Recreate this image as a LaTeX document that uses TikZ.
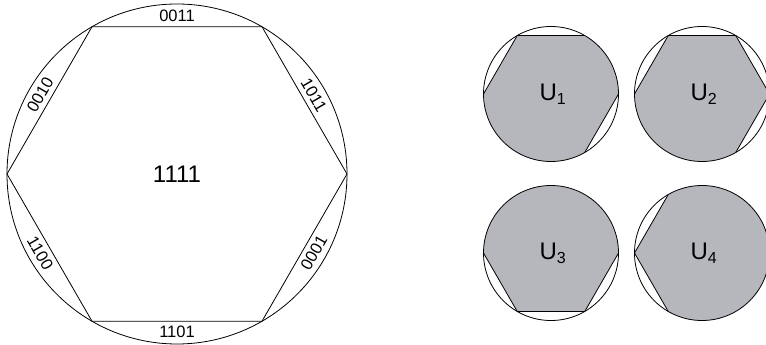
\documentclass[tikz,border=0pt]{standalone}
\usepackage{fontspec}
\setmainfont{Liberation Sans}
\usetikzlibrary{calc}
\definecolor{ugray}{RGB}{182,183,188}
\newcommand{\smallset}[4]{%
  \begin{scope}[shift={(#1)}]
    \fill[ugray] (0,0) circle (67.5);
    \foreach \a in {#3}{
      \fill[white] (\a:67.5) arc[start angle=\a, end angle=\a+60, radius=67.5] -- cycle;
      \draw (\a:67.5) -- (\a+60:67.5);
    }
    \draw (0,0) circle (67.5);
    \node[utext] (#4) at (2,0) {U\textsubscript{\fontsize{16}{16}\selectfont #2}};
  \end{scope}}
\begin{document}
\begin{tikzpicture}[x=1pt,y=1pt,line width=0.8pt,
  edgelab/.style={inner sep=0pt,font=\fontsize{16.5}{16.5}\selectfont},
  bigtext/.style={inner sep=0pt,font=\fontsize{24}{24}\selectfont},
  utext/.style={inner sep=0pt,font=\fontsize{24}{24}\selectfont}]
\useasboundingbox (0,0) rectangle (766,345);
\clip (0,0) rectangle (766,345);
% ---- big circle with hexagon
\coordinate (C) at (177,171);
\draw (C) circle (170);
\draw ($(C)+(0:170)$) -- ($(C)+(60:170)$) -- ($(C)+(120:170)$) -- ($(C)+(180:170)$) -- ($(C)+(240:170)$) -- ($(C)+(300:170)$) -- cycle;
\node[bigtext] (c) at (C) {1111};
\node[edgelab] (l1) at ($(C)+(90:158)$) {0011};
\node[edgelab,rotate=-60] (l2) at ($(C)+(30:158)$) {1011};
\node[edgelab,rotate=60] (l3) at ($(C)+(-30:158)$) {0001};
\node[edgelab] (l4) at ($(C)+(-90:158)$) {1101};
\node[edgelab,rotate=-60] (l5) at ($(C)+(-150:158)$) {1100};
\node[edgelab,rotate=60] (l6) at ($(C)+(150:158)$) {0010};
% ---- small circles
\smallset{551,251}{1}{120,60,-60}{u1}
\smallset{702,251}{2}{120,60,0,-60}{u2}
\smallset{551,92}{3}{180,240,-60}{u3}
\smallset{702,92}{4}{120,180}{u4}
\end{tikzpicture}
\end{document}
